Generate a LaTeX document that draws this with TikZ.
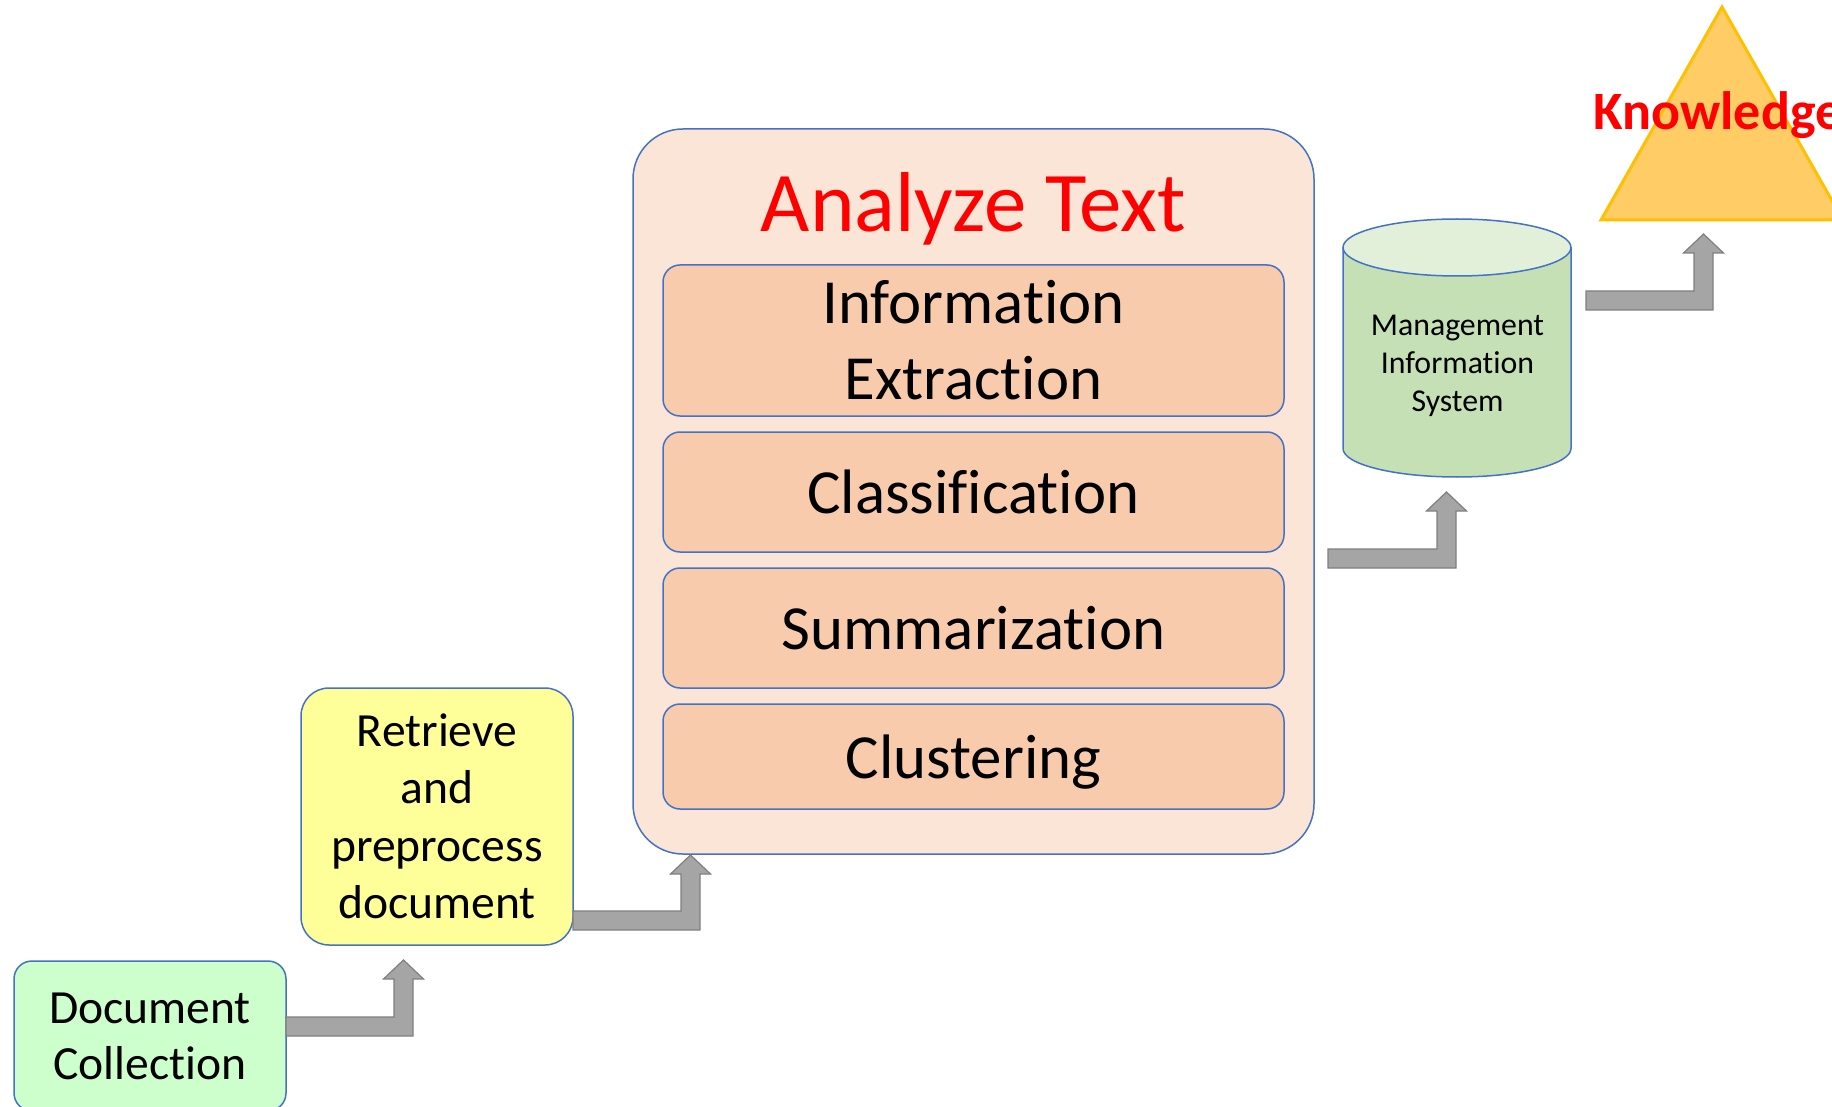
\documentclass[tikz,border=0pt]{standalone}
\usepackage{fontspec}
\setmainfont[Ligatures={NoCommon,NoContextual,NoRare,NoRequired},Contextuals={NoAlternate}]{Carlito}
\newcommand\tI{t\kern0pt i}
\definecolor{bblue}{HTML}{4472C4}
\definecolor{docgreen}{HTML}{CCFFCC}
\definecolor{retyellow}{HTML}{FFFF99}
\definecolor{bigpeach}{HTML}{FBE5D6}
\definecolor{innerpeach}{HTML}{F8CBAD}
\definecolor{cylbody}{HTML}{C5E0B4}
\definecolor{cyltop}{HTML}{E2F0D9}
\definecolor{agray}{HTML}{A5A5A5}
\definecolor{agrayline}{HTML}{808080}
\definecolor{trifill}{HTML}{FFCC66}
\definecolor{triline}{HTML}{FFC000}
\definecolor{kred}{HTML}{FF0000}
\newcommand\bentarrow[4]{%
  \draw[blockarrow] (#1,#2) -- (#1,{#2-19}) -- ({#3-19},{#2-19}) -- ({#3-19},{#4+19})
   -- ({#3-29.5},{#4+19}) -- ({#3-9.5},#4) -- ({#3+10.5},{#4+19}) -- (#3,{#4+19})
   -- (#3,#2) -- cycle;}
\begin{document}
\begin{tikzpicture}[x=0.5pt,y=-0.5pt,
  box/.style={draw=bblue,line width=0.75pt,inner sep=0pt,align=center},
  bodyfont/.style={font=\fontsize{23.8}{28.75}\selectfont},
  innerbox/.style={box,fill=innerpeach,rounded corners=8.5pt,minimum width=310.5pt,
     font=\fontsize{31.4}{38}\selectfont},
  blockarrow/.style={fill=agray,draw=agrayline,line width=0.6pt,line join=miter}]
\useasboundingbox (0,0) rectangle (1832,1107);
\clip (0,0) rectangle (1832,1107);
\fill[white] (0,0) rectangle (1832,1107);

% Document Collection
\node[box,fill=docgreen,rounded corners=9pt,minimum width=136pt,minimum height=75pt,
  font=\fontsize{23.8}{28}\selectfont] (doc) at (150,1036) {Document\\Collec\tI on};

% Retrieve and preprocess
\node[box,bodyfont,fill=retyellow,rounded corners=14pt,minimum width=136pt,minimum height=128.5pt]
  (ret) at (437,816.5) {Retrieve\\and\\preprocess\\document};

% Analyze Text container
\node[box,fill=bigpeach,rounded corners=25pt,minimum width=340.5pt,minimum height=362.5pt]
  (big) at (973.5,491.5) {};
\node[anchor=base,text=kred,font=\fontsize{42.5}{50}\selectfont] (title) at (973.5,232) {Analyze Text};

\node[innerbox,minimum height=75.5pt] (ie) at (973.5,340.5) {Informa\tI on\\Extrac\tI on};
\node[innerbox,minimum height=60pt] (cls) at (973.5,492) {Classifica\tI on};
\node[innerbox,minimum height=60pt] (sum) at (973.5,628) {Summariza\tI on};
\node[innerbox,minimum height=52.5pt,text depth=0pt] (clu) at (973.5,756.5) {Clustering};

% Cylinder (Management Information System)
\fill[cylbody] (1343,247.5) -- (1343,448.5) arc[start angle=180,end angle=360,x radius=57pt,y radius=14.25pt]
  -- (1571,247.5) -- cycle;
\draw[bblue,line width=0.75pt] (1343,247.5) -- (1343,448.5) arc[start angle=180,end angle=360,x radius=57pt,y radius=14.25pt]
  -- (1571,247.5);
\draw[bblue,line width=0.75pt,fill=cyltop] (1457,247.5) ellipse[x radius=57pt,y radius=14.25pt];
\node[align=center,inner sep=0pt,font=\fontsize{15.9}{19}\selectfont] (mis) at (1457.5,365.5)
  {Management\\Informa\tI on\\System};

% Knowledge triangle
\draw[fill=trifill,draw=triline,line width=1.5pt,line join=miter] (1722,7) -- (1843,220) -- (1601,220) -- cycle;
\node[anchor=base west,inner sep=0pt,text=kred,font=\fontsize{27}{32}\selectfont\bfseries] (know) at (1593,130) {Knowledge};

% Bent block arrows
\bentarrow{286}{1036}{413}{960}
\bentarrow{573}{930}{700}{855}
\bentarrow{1328}{568}{1456}{492}
\bentarrow{1586}{310}{1713}{234}
\end{tikzpicture}
\end{document}
